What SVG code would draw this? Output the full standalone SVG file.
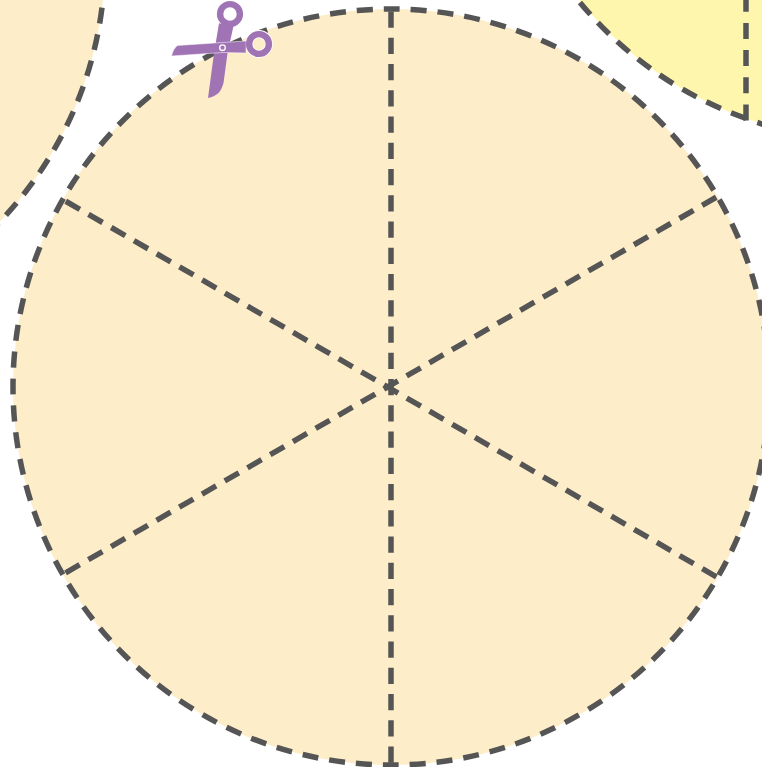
<svg xmlns="http://www.w3.org/2000/svg" width="762" height="767" viewBox="0 0 762 767">
<style>
.cut{fill:none;stroke:#555555;stroke-width:5.5;stroke-dasharray:16 11}
.spoke{fill:none;stroke:#555555;stroke-width:5.500;stroke-dasharray:16.25 10;stroke-dashoffset:23.75}
.blade{fill:#a074b4}
.halo{fill:none;stroke:#ffffff;stroke-width:8}
.ring{fill:none;stroke:#a074b4;stroke-width:6.400}
</style>
<rect width="762" height="767" fill="#ffffff"/>
<g id="pie-left">
<circle cx="-273" cy="-40" r="378" fill="#fdedc8"/>
<path class="cut" d="M-12.900 234.300A378 378 0 0 0 102.900 0"/>
</g>
<g id="pie-yellow">
<circle cx="873.400" cy="-237.500" r="378" fill="#fff6ad"/>
<path class="cut" d="M746 118.400A378 378 0 0 1 578 0"/>
<path class="cut" style="stroke-dasharray:0 12 16 11" d="M746 118.400A378 378 0 0 0 790 132"/>
<path class="cut" style="stroke-dasharray:16 11.200" d="M746 120.500V0"/>
</g>
<g id="pie-main">
<circle cx="391" cy="387" r="378" fill="#fdedc8"/>
<circle class="cut" cx="391" cy="387" r="378" style="stroke-dasharray:16 10.989;stroke-dashoffset:8"/>
<path class="spoke" d="M391 9V765"/>
<path class="spoke" d="M63.600 200L718.400 578"/>
<path class="spoke" d="M718.400 196L63.600 574"/>
</g>
<g id="scissors">
<circle class="halo" cx="230" cy="14" r="9.900"/>
<circle class="halo" cx="259" cy="44" r="9.900"/>
<path class="blade" d="M219 23.300L233.500 26L227.500 53.300L223.500 83Q221.500 90 218.500 93Q214 97 208 98L214 53.300Z"/>
<path class="blade" stroke="#ffffff" stroke-width=".5" d="M171.500 56Q173 49 177.300 45.500L222 42.500L246 41L246 53L223 52.500Z"/>
<circle class="ring" cx="230" cy="14" r="9.900"/>
<circle class="ring" cx="259" cy="44" r="9.900"/>
<circle cx="222.500" cy="47.700" r="2.800" fill="#a074b4" stroke="#ffffff" stroke-width="1.300"/>
</g>
</svg>
